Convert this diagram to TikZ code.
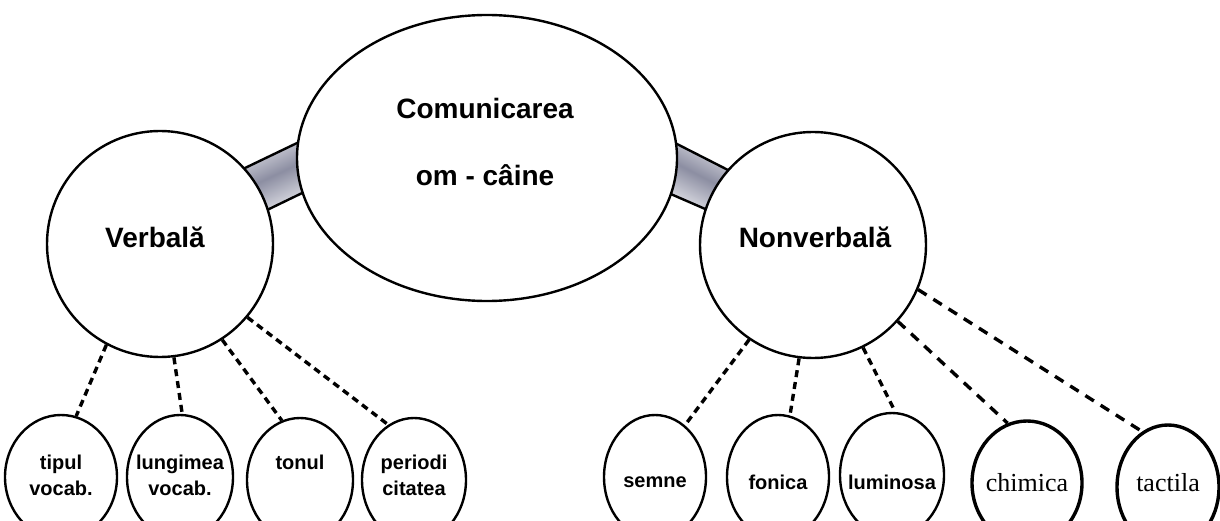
\documentclass[tikz,border=0pt]{standalone}
\usepackage{fontspec}
\setmainfont{Liberation Sans}
\newfontfamily\serifx{Liberation Serif}
\usetikzlibrary{shapes.geometric}
\definecolor{bridgemid}{RGB}{140,142,162}
\definecolor{bridgeedge}{RGB}{248,248,250}
\begin{document}
\begin{tikzpicture}[x=1pt,y=-1pt,
  big/.style={draw=black, line width=2.4pt, fill=white, inner sep=0pt},
  bigtext/.style={font=\bfseries\fontsize{28}{67}\selectfont, align=center, inner sep=0pt},
  small/.style={ellipse, draw=black, line width=2.4pt, fill=white, inner sep=0pt, minimum height=124pt},
  thicksmall/.style={small, line width=3.4pt},
  lbl/.style={font=\bfseries\fontsize{20}{26}\selectfont, align=center, inner sep=0pt},
  seriflbl/.style={font=\serifx\fontsize{26}{30}\selectfont, align=center, inner sep=0pt},
  link/.style={line width=3.4pt, dash pattern=on 7pt off 5pt},
  longlink/.style={line width=3.4pt, dash pattern=on 10pt off 8pt},
  bridge/.style={draw=black, line width=2.4pt, top color=bridgeedge, bottom color=bridgeedge, middle color=bridgemid}
]
\useasboundingbox (0,0) rectangle (1220,521);
\fill[white] (0,0) rectangle (1220,521);

% bridges (drawn behind the big nodes)
\draw[bridge, shading angle=25] (225,177.6) -- (320,132) -- (320,184.4) -- (247,219.7) -- cycle;
\draw[bridge, shading angle=-27] (655,132.8) -- (748,180.2) -- (725,217.6) -- (650,185) -- cycle;

% big nodes
\node[big, ellipse, minimum width=380pt, minimum height=286pt,
      label={[bigtext, yshift=16.5pt, xshift=-2pt]center:Comunicarea\\om - câine}] (com) at (487,158) {};
\node[big, circle, minimum size=226pt,
      label={[bigtext, yshift=7pt, xshift=-5pt]center:Verbală}] (verb) at (160,244) {};
\node[big, circle, minimum size=226pt,
      label={[bigtext, yshift=8pt, xshift=2pt]center:Nonverbală}] (nonv) at (813,245) {};

% small nodes
\node[small, minimum width=112pt, label={[lbl, yshift=2pt]center:tipul\\vocab.}] (tip) at (61,477) {};
\node[small, minimum width=106pt, label={[lbl, yshift=2pt]center:lungimea\\vocab.}] (lung) at (180,477) {};
\node[small, minimum width=106pt, label={[lbl, yshift=18pt]center:tonul}] (ton) at (300,480) {};
\node[small, minimum width=104pt, label={[lbl, yshift=5pt]center:periodi\\citatea}] (per) at (414,480) {};
\node[small, minimum width=102pt, label={[lbl, yshift=-5pt]center:semne}] (sem) at (655,477) {};
\node[small, minimum width=102pt, label={[lbl, yshift=-5pt]center:fonica}] (fon) at (778,477) {};
\node[small, minimum width=104pt, label={[lbl, yshift=-7pt]center:luminosa}] (lum) at (892,475) {};
\node[thicksmall, minimum width=110pt, label={[seriflbl]center:chimica}] (chi) at (1027,483) {};
\node[thicksmall, minimum width=102pt, label={[seriflbl, yshift=4pt]center:tactila}] (tac) at (1168,487) {};

% connectors
\draw[link] (verb.242) -- (tip.76);
\draw[link] (verb.277) -- (lung.88);
\draw[link] (verb.303) -- (ton.107);
\draw[link] (verb.320) -- (per.115);
\draw[link] (nonv.236) -- (sem.60);
\draw[link] (nonv.263) -- (fon.79);
\draw[link] (nonv.296) -- (lum.87);
\draw[longlink] (nonv.318) -- (chi.108);
\draw[longlink] (nonv.337) -- (tac.115);
\end{tikzpicture}
\end{document}
